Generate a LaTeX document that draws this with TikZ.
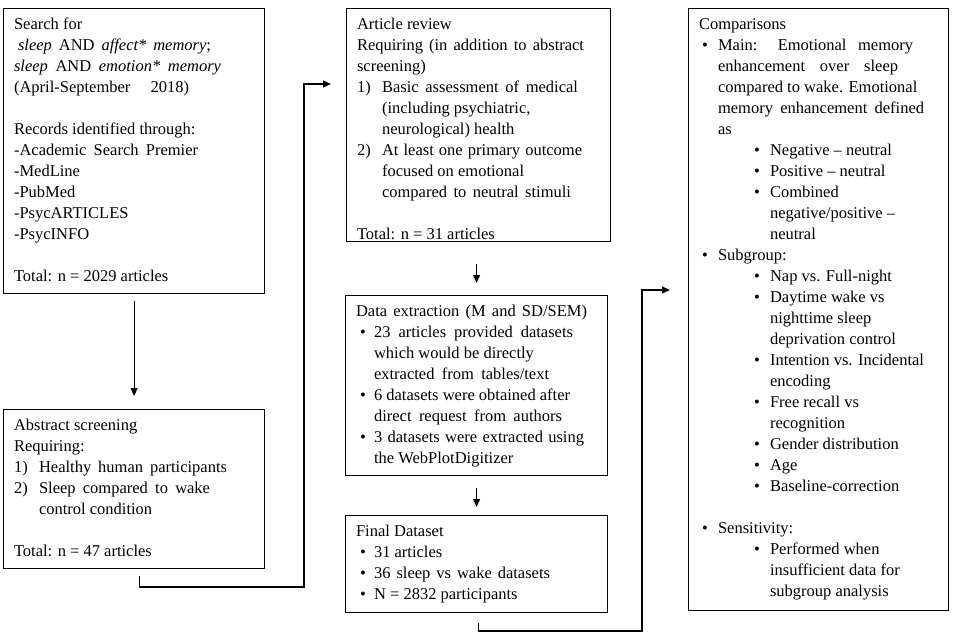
\documentclass[tikz,border=0pt]{standalone}
\usepackage{fontspec}
\setmainfont{Liberation Serif}
\usetikzlibrary{arrows.meta}
\newcommand\lab[3]{\hspace*{#1pt}\makebox[#2pt][l]{#3}}
\newcommand\ind[1]{\hspace*{#1pt}}
\newcommand\sw[2]{\makebox[#1pt][s]{#2}}
\begin{document}
\begin{tikzpicture}[x=1pt,y=-1pt,
  box/.style={draw, line width=1.1pt, inner xsep=10.5pt, inner ysep=6pt,
    anchor=north west, font=\fontsize{16.5}{21}\selectfont},
  arr/.style={line width=1.1pt, -{Triangle[length=8pt,width=7pt]}}]
\useasboundingbox (0,0) rectangle (957,642);

\node[box] (search) at (3,8) {\parbox[t][273pt][t]{240pt}{\raggedright\strut Search for\\
\hspace*{4pt}\sw{193}{\textit{sleep} AND \textit{affect* memory};}\\
\sw{207}{\textit{sleep} AND \textit{emotion* memory}}\\
\sw{175}{(April-September 2018)}\\[21pt]
Records identified through:\\
\sw{184}{-Academic Search Premier}\\
-MedLine\\
-PubMed\\
-PsycARTICLES\\
-PsycINFO\\[21pt]
Total: n = 2029 articles}};

\node[box] (abs) at (3,409) {\parbox[t][147pt][t]{240pt}{\raggedright\strut Abstract screening\\
Requiring:\\
\lab{0}{25}{1)}\sw{188}{Healthy human participants}\\
\lab{0}{25}{2)}\sw{171}{Sleep compared to wake}\\
\ind{25}control condition\\[21pt]
Total: n = 47 articles}};

\node[box] (art) at (346,8) {\parbox[t][221pt][t]{243pt}{\raggedright\strut Article review\\
\sw{227}{Requiring (in addition to abstract}\\
screening)\\
\lab{0}{25}{1)}\sw{196}{Basic assessment of medical}\\
\ind{25}(including psychiatric,\\
\ind{25}neurological) health\\
\lab{0}{25}{2)}\sw{200}{At least one primary outcome}\\
\ind{25}focused on emotional\\
\ind{25}\sw{189}{compared to neutral stimuli}\\[21pt]
Total: n = 31 articles}};

\node[box] (data) at (345,295) {\parbox[t][168pt][t]{241pt}{\raggedright\strut \sw{231}{Data extraction (M and SD/SEM)}\\
\lab{4}{14}{•}\sw{199}{23 articles provided datasets}\\
\ind{18}which would be directly\\
\ind{18}\sw{175}{extracted from tables/text}\\
\lab{4}{14}{•}6 datasets were obtained after\\
\ind{18}\sw{188}{direct request from authors}\\
\lab{4}{14}{•}\sw{210}{3 datasets were extracted using}\\
\ind{18}the WebPlotDigitizer}};

\node[box] (final) at (345,515) {\parbox[t][85pt][t]{241pt}{\raggedright\strut Final Dataset\\
\lab{4}{14}{•}31 articles\\
\lab{4}{14}{•}\sw{176}{36 sleep vs wake datasets}\\
\lab{4}{14}{•}N = 2832 participants}};

\node[box] (comp) at (688,8) {\parbox[t][590pt][t]{239pt}{\raggedright\strut Comparisons\\
\lab{3}{16}{•}\sw{195}{Main: Emotional memory}\\
\ind{19}\sw{180}{enhancement over sleep}\\
\ind{19}compared to wake. Emotional\\
\ind{19}\sw{206}{memory enhancement defined}\\
\ind{19}as\\
\lab{55}{16}{•}Negative – neutral\\
\lab{55}{16}{•}Positive – neutral\\
\lab{55}{16}{•}Combined\\
\ind{71}negative/positive –\\
\ind{71}neutral\\
\lab{3}{16}{•}Subgroup:\\
\lab{55}{16}{•}Nap vs. Full-night\\
\lab{55}{16}{•}Daytime wake vs\\
\ind{71}nighttime sleep\\
\ind{71}deprivation control\\
\lab{55}{16}{•}Intention vs. Incidental\\
\ind{71}encoding\\
\lab{55}{16}{•}Free recall vs\\
\ind{71}recognition\\
\lab{55}{16}{•}Gender distribution\\
\lab{55}{16}{•}Age\\
\lab{55}{16}{•}Baseline-correction\\[21pt]
\lab{3}{16}{•}Sensitivity:\\
\lab{55}{16}{•}Performed when\\
\ind{71}insufficient data for\\
\ind{71}subgroup analysis}};

% straight arrows
\draw[arr, shorten <=7pt, shorten >=13pt] (search) -- (abs);
\draw[arr, shorten <=22pt, shorten >=12pt] (data.north |- art.south) -- (data.north);
\draw[arr, shorten <=12pt, shorten >=8pt] (data.south) -- (final.north);

% elbow connectors
\coordinate (e1) at (304,587);
\coordinate (e2) at (304,84);
\draw[arr, shorten >=15pt] ([xshift=5.5pt]abs.south) ++(0,7) |- (e1) -- (e2) -- (e2 -| art.west);

\coordinate (f1) at (642,631);
\coordinate (f2) at (642,290);
\draw[arr, shorten >=18pt] ([xshift=2pt]final.south) ++(0,10) |- (f1) -- (f2) -- (f2 -| comp.west);
\end{tikzpicture}
\end{document}
